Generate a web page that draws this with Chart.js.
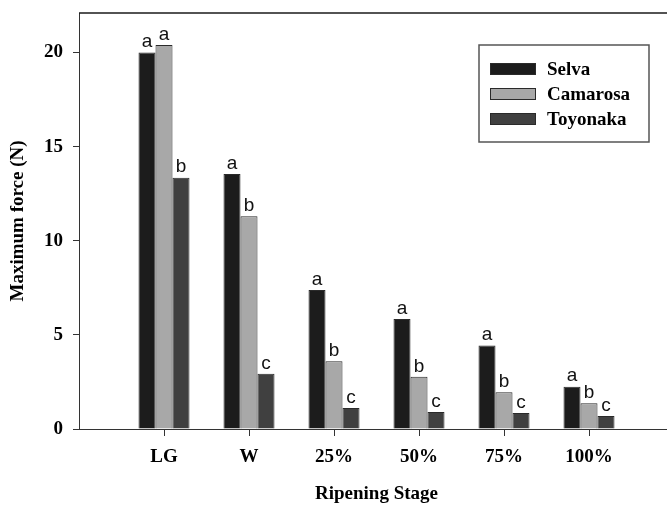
<!DOCTYPE html>
<html>
<head>
<meta charset="utf-8">
<script src="https://cdn.jsdelivr.net/npm/chart.js@4.4.0/dist/chart.umd.min.js"></script>
<style>
html,body{margin:0;padding:0;overflow:hidden;background:#fff;width:667px;height:505px;}
#wrap{width:680px;height:505px;position:relative;}
</style>
</head>
<body>
<div id="wrap"><canvas id="c"></canvas></div>
<script>
const categories = ['LG', 'W', '25%', '50%', '75%', '100%'];
const seriesNames = ['Selva', 'Camarosa', 'Toyonaka'];
const selva    = [20.0, 13.55, 7.38, 5.85, 4.43, 2.25];
const camarosa = [20.4, 11.3, 3.6, 2.77, 1.95, 1.37];
const toyonaka = [13.35, 2.93, 1.12, 0.9, 0.85, 0.69];
const selvaLetters    = ['a', 'a', 'a', 'a', 'a', 'a'];
const camarosaLetters = ['a', 'b', 'b', 'b', 'b', 'b'];
const toyonakaLetters = ['b', 'c', 'c', 'c', 'c', 'c'];
const yTicks = [0, 5, 10, 15, 20];

const colors = ['#1c1c1c', '#a8a8a8', '#404040'];
const pad = arr => [null, ...arr, null];
const labels = ['', ...categories, ''];
const letters = [selvaLetters, camarosaLetters, toyonakaLetters];

const serif = '"Liberation Serif", "Times New Roman", serif';
const sans = '"Liberation Sans", Arial, sans-serif';

const framePlugin = {
  id: 'frame',
  afterDraw(chart) {
    const {ctx, chartArea: a} = chart;
    ctx.save();
    ctx.strokeStyle = '#1a1a1a';
    ctx.lineWidth = 1.5;
    ctx.beginPath();
    ctx.moveTo(a.left, a.top);
    ctx.lineTo(a.right, a.top);
    ctx.stroke();
    ctx.restore();
  }
};

const letterPlugin = {
  id: 'letters',
  afterDatasetsDraw(chart) {
    const {ctx} = chart;
    ctx.save();
    ctx.font = '19px ' + sans;
    ctx.fillStyle = '#111';
    ctx.textAlign = 'center';
    ctx.textBaseline = 'bottom';
    chart.data.datasets.forEach((ds, di) => {
      const meta = chart.getDatasetMeta(di);
      meta.data.forEach((bar, i) => {
        if (ds.data[i] == null) return;
        ctx.fillText(letters[di][i - 1], bar.x, bar.y - 1);
      });
    });
    ctx.restore();
  }
};

const legendPlugin = {
  id: 'boxLegend',
  afterDraw(chart) {
    const {ctx} = chart;
    ctx.save();
    ctx.strokeStyle = '#555';
    ctx.lineWidth = 1.5;
    ctx.strokeRect(479, 45, 170, 97);
    ctx.font = 'bold 19px ' + serif;
    ctx.textBaseline = 'middle';
    ctx.textAlign = 'left';
    chart.data.datasets.forEach((ds, i) => {
      const y = 69 + i * 25;
      ctx.fillStyle = ds.backgroundColor;
      ctx.fillRect(490, y - 6, 46, 12);
      ctx.strokeStyle = '#2a2a2a';
      ctx.lineWidth = 1;
      ctx.strokeRect(490.5, y - 5.5, 45, 11);
      ctx.fillStyle = '#000';
      ctx.fillText(ds.label, 547, y + 1);
    });
    ctx.restore();
  }
};

new Chart(document.getElementById('c'), {
  type: 'bar',
  data: {
    labels: labels,
    datasets: [
      {label: seriesNames[0], data: pad(selva), backgroundColor: colors[0]},
      {label: seriesNames[1], data: pad(camarosa), backgroundColor: colors[1]},
      {label: seriesNames[2], data: pad(toyonaka), backgroundColor: colors[2]}
    ].map(d => Object.assign(d, {borderColor: '#2a2a2a', borderWidth: 1, categoryPercentage: 0.6, barPercentage: 1.0}))
  },
  options: {
    responsive: true,
    maintainAspectRatio: false,
    animation: false,
    devicePixelRatio: 1,
    layout: {padding: {top: 13, right: 6, left: 0, bottom: 0}},
    plugins: {legend: {display: false}, tooltip: {enabled: false}},
    scales: {
      x: {
        type: 'category',
        offset: false,
        grid: {
          offset: false,
          drawOnChartArea: false,
          tickLength: 7,
          tickColor: c => (c.tick && c.tick.label === '') ? 'rgba(0,0,0,0)' : '#333',
          tickWidth: 1
        },
        border: {color: '#333', width: 1},
        ticks: {
          color: '#000',
          font: {family: serif, size: 19, weight: 'bold'},
          padding: 10,
          maxRotation: 0,
          autoSkip: false
        },
        title: {
          display: true,
          text: 'Ripening Stage',
          color: '#000',
          font: {family: serif, size: 19, weight: 'bold'},
          padding: {top: 0, bottom: 0}
        },
        afterFit(s) { s.height = 76; s.paddingLeft = 0; s.paddingRight = 0; }
      },
      y: {
        min: 0,
        max: 22.1,
        grid: {drawOnChartArea: false, tickLength: 6, tickColor: '#333'},
        border: {color: '#333', width: 1},
        afterBuildTicks(s) { s.ticks = yTicks.map(v => ({value: v})); },
        ticks: {
          color: '#000',
          font: {family: serif, size: 19, weight: 'bold'},
          padding: 10
        },
        title: {
          display: true,
          text: 'Maximum force (N)',
          color: '#000',
          font: {family: serif, size: 19, weight: 'bold'},
          padding: {top: 7, bottom: 0}
        },
        afterFit(s) { s.width = 79; s.paddingTop = 0; s.paddingBottom = 0; }
      }
    }
  },
  plugins: [framePlugin, letterPlugin, legendPlugin]
});
</script>
</body>
</html>
